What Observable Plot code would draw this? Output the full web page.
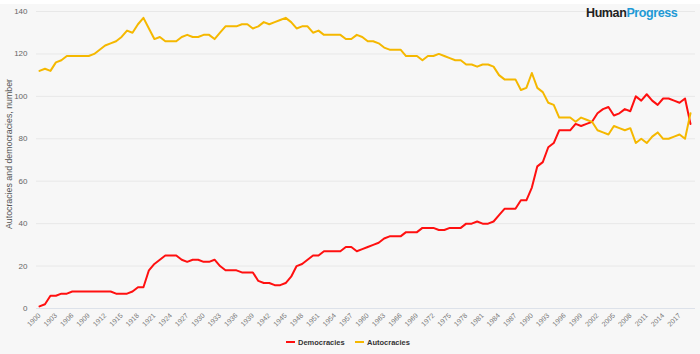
<!DOCTYPE html>
<html><head><meta charset="utf-8">
<script src="https://cdn.jsdelivr.net/npm/d3@7"></script>
<script src="https://cdn.jsdelivr.net/npm/@observablehq/plot@0.6"></script>
<style>
html,body{margin:0;padding:0;background:#f7f7f7;}
#wrap{position:relative;width:700px;height:354px;overflow:hidden;background:#f7f7f7;border-top:4px solid #fff;box-sizing:border-box;font-family:"Liberation Sans",Arial,sans-serif;}
#chart{position:absolute;left:0;top:-4px;}
#ytitle{position:absolute;left:8.5px;top:150px;transform:translate(-50%,-50%) rotate(-90deg);white-space:nowrap;font-size:8.8px;color:#555;}
#logo{position:absolute;left:586px;top:2px;font-size:12.5px;font-weight:bold;letter-spacing:-0.4px;color:#222;}
#logo span{color:#1e9ad6;}
.leg{position:absolute;top:334px;font-size:7.5px;font-weight:bold;color:#333;white-space:nowrap;}
.leg i{display:inline-block;width:9px;height:2px;vertical-align:middle;margin-right:3px;position:relative;top:-1px;}
</style></head>
<body>
<div id="wrap">
  <div id="chart"></div>
  <div id="ytitle">Autocracies and democracies, number</div>
  <div id="logo">Human<span>Progress</span></div>
  <div class="leg" style="left:286px"><i style="background:#ff1010"></i>Democracies</div>
  <div class="leg" style="left:355px"><i style="background:#f5b800"></i>Autocracies</div>
</div>
<script>
const years = d3.range(1900, 2020);
const democracies = [
  1,2,6,6,7,7,8,8,8,8,
  8,8,8,8,7,7,7,8,10,10,
  18,21,23,25,25,25,23,22,23,23,
  22,22,23,20,18,18,18,17,17,17,
  13,12,12,11,11,12,15,20,21,23,
  25,25,27,27,27,27,29,29,27,28,
  29,30,31,33,34,34,34,36,36,36,
  38,38,38,37,37,38,38,38,40,40,
  41,40,40,41,44,47,47,47,51,51,
  57,67,69,76,78,84,84,84,87,86,
  87,88,92,94,95,91,92,94,93,100,
  98,101,98,96,99,99,98,97,99,87
];
const autocracies = [
  112,113,112,116,117,119,119,119,119,119,
  120,122,124,125,126,128,131,130,134,137,
  132,127,128,126,126,126,128,129,128,128,
  129,129,127,130,133,133,133,134,134,132,
  133,135,134,135,136,137,135,132,133,133,
  130,131,129,129,129,129,127,127,129,128,
  126,126,125,123,122,122,122,119,119,119,
  117,119,119,120,119,118,117,117,115,115,
  114,115,115,114,110,108,108,108,103,104,
  111,104,102,97,96,90,90,90,88,90,
  89,88,84,83,82,86,85,84,85,78,
  80,78,81,83,80,80,81,82,80,92
];
const seriesNames = ["Democracies", "Autocracies"];
const seriesColors = ["#ff1010", "#f5b800"];
const xTicks = d3.range(1900, 2018, 3);
const yTicks = [0, 20, 40, 60, 80, 100, 120, 140];

const data = years.flatMap((y, i) => [
  {year: y, value: democracies[i], series: seriesNames[0]},
  {year: y, value: autocracies[i], series: seriesNames[1]}
]);

const chart = Plot.plot({
  width: 700, height: 354,
  marginTop: 11, marginBottom: 46, marginLeft: 36, marginRight: 5,
  style: {background: "transparent", fontFamily: "'Liberation Sans', Arial, sans-serif"},
  x: {domain: [1900, 2019], insetLeft: 3, insetRight: 5},
  y: {domain: [0, 140]},
  color: {domain: seriesNames, range: seriesColors},
  marks: [
    Plot.ruleY(yTicks.filter(d => d > 0), {stroke: "#e8e8e8", strokeWidth: 1}),
    Plot.ruleY([0], {stroke: "#dde2ea", strokeWidth: 1}),
    Plot.axisY({ticks: yTicks, tickSize: 0, tickPadding: 9, fontSize: 8, fill: "#666", label: null}),
    Plot.axisX({ticks: xTicks, tickFormat: d => String(d), tickRotate: -45, tickSize: 0, tickPadding: 6, fontSize: 7, fill: "#777", label: null}),
    Plot.line(data, {x: "year", y: "value", z: "series", stroke: "series", strokeWidth: 2, strokeLinejoin: "round", strokeLinecap: "round"})
  ]
});
document.getElementById("chart").appendChild(chart);
</script>
</body></html>
